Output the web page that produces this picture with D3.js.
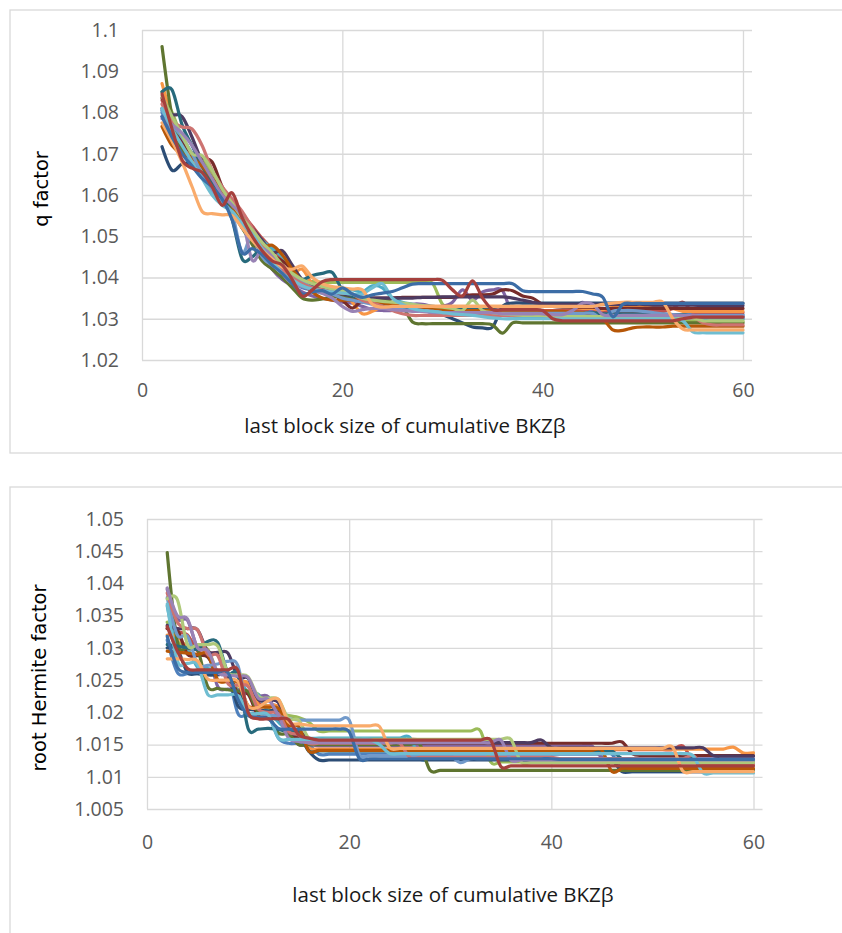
<!DOCTYPE html>
<html>
<head>
<meta charset="utf-8">
<script src="https://cdn.jsdelivr.net/npm/d3@7"></script>
<style>
  body { margin: 0; background: #fff; }
  svg { display: block; }
</style>
</head>
<body>
<script>
// block sizes 2..60 (x of every run)
const blockSizes = [2,3,4,5,6,7,8,9,10,
  11,12,13,14,15,16,17,18,19,20,
  21,22,23,24,25,26,27,28,29,30,
  31,32,33,34,35,36,37,38,39,40,
  41,42,43,44,45,46,47,48,49,50,
  51,52,53,54,55,56,57,58,59,60];

const xTicks = [0, 20, 40, 60];
const qTicks = [1.02, 1.03, 1.04, 1.05, 1.06, 1.07, 1.08, 1.09, 1.1];
const hermiteTicks = [1.005, 1.01, 1.015, 1.02, 1.025, 1.03, 1.035, 1.04, 1.045, 1.05];

const seriesColors = ['#4F81BD','#C0504D','#9BBB59','#8064A2','#4BACC6','#F79646',
  '#2C4D75','#772C2A','#5F7530','#4D3B62','#276A7C','#B65708',
  '#729ACA','#CD7371','#AFC97A','#9983B5','#6FBDD1','#F9AB6B',
  '#3C6DA6','#A5403D'];

// ---- q factor runs ----
const q01 = [1.0800,1.0745,1.0715,1.0690,1.0650,1.0625,1.0600,1.0560,1.0530,
  1.0510,1.0480,1.0450,1.0420,1.0390,1.0375,1.0370,1.0368,1.0362,1.0350,
  1.0345,1.0345,1.0340,1.0335,1.0335,1.0332,1.0330,1.0330,1.0328,1.0328,
  1.0325,1.0325,1.0322,1.0322,1.0322,1.0320,1.0320,1.0320,1.0318,1.0318,
  1.0318,1.0318,1.0315,1.0315,1.0315,1.0315,1.0312,1.0312,1.0312,1.0312,
  1.0312,1.0312,1.0310,1.0310,1.0310,1.0310,1.0310,1.0310,1.0310,1.0310];
const q02 = [1.0830,1.0770,1.0730,1.0700,1.0670,1.0640,1.0610,1.0585,1.0555,
  1.0525,1.0495,1.0470,1.0445,1.0415,1.0385,1.0372,1.0365,1.0358,1.0350,
  1.0345,1.0340,1.0338,1.0335,1.0332,1.0330,1.0330,1.0328,1.0325,1.0325,
  1.0322,1.0322,1.0322,1.0322,1.0322,1.0320,1.0320,1.0320,1.0320,1.0320,
  1.0320,1.0320,1.0320,1.0320,1.0320,1.0318,1.0318,1.0318,1.0318,1.0318,
  1.0318,1.0318,1.0325,1.0340,1.0315,1.0315,1.0315,1.0315,1.0315,1.0315];
const q03 = [1.0850,1.0800,1.0740,1.0700,1.0690,1.0650,1.0610,1.0580,1.0540,
  1.0500,1.0470,1.0440,1.0420,1.0400,1.0392,1.0390,1.0388,1.0388,1.0388,
  1.0388,1.0388,1.0388,1.0388,1.0388,1.0388,1.0388,1.0388,1.0386,1.0335,
  1.0320,1.0310,1.0310,1.0310,1.0310,1.0310,1.0310,1.0310,1.0310,1.0310,
  1.0310,1.0310,1.0310,1.0310,1.0310,1.0300,1.0295,1.0295,1.0295,1.0295,
  1.0295,1.0295,1.0295,1.0295,1.0295,1.0295,1.0295,1.0293,1.0293,1.0293];
const q04 = [1.0790,1.0760,1.0735,1.0700,1.0660,1.0620,1.0590,1.0560,1.0520,
  1.0490,1.0460,1.0420,1.0395,1.0380,1.0365,1.0355,1.0350,1.0345,1.0340,
  1.0338,1.0330,1.0322,1.0320,1.0320,1.0325,1.0335,1.0335,1.0330,1.0330,
  1.0340,1.0370,1.0345,1.0365,1.0370,1.0368,1.0310,1.0308,1.0306,1.0305,
  1.0305,1.0305,1.0320,1.0340,1.0315,1.0305,1.0305,1.0305,1.0305,1.0305,
  1.0302,1.0302,1.0302,1.0302,1.0302,1.0300,1.0300,1.0300,1.0300,1.0300];
const q05 = [1.0805,1.0770,1.0720,1.0680,1.0650,1.0610,1.0590,1.0560,1.0530,
  1.0510,1.0490,1.0470,1.0450,1.0420,1.0390,1.0370,1.0362,1.0360,1.0365,
  1.0370,1.0365,1.0380,1.0375,1.0350,1.0340,1.0335,1.0330,1.0328,1.0325,
  1.0320,1.0318,1.0315,1.0312,1.0310,1.0308,1.0306,1.0305,1.0305,1.0305,
  1.0305,1.0305,1.0305,1.0305,1.0305,1.0305,1.0305,1.0305,1.0305,1.0305,
  1.0303,1.0303,1.0303,1.0303,1.0303,1.0300,1.0300,1.0300,1.0300,1.0300];
const q06 = [1.0870,1.0790,1.0740,1.0690,1.0660,1.0640,1.0610,1.0570,1.0530,
  1.0495,1.0470,1.0455,1.0430,1.0410,1.0420,1.0385,1.0380,1.0375,1.0370,
  1.0340,1.0312,1.0318,1.0330,1.0330,1.0330,1.0330,1.0330,1.0330,1.0330,
  1.0330,1.0330,1.0330,1.0330,1.0330,1.0330,1.0330,1.0330,1.0330,1.0330,
  1.0330,1.0330,1.0328,1.0325,1.0325,1.0322,1.0330,1.0330,1.0330,1.0330,
  1.0330,1.0330,1.0325,1.0318,1.0318,1.0318,1.0318,1.0318,1.0318,1.0318];
const q07 = [1.0717,1.0660,1.0675,1.0675,1.0650,1.0610,1.0590,1.0560,1.0530,
  1.0500,1.0470,1.0440,1.0415,1.0395,1.0380,1.0370,1.0365,1.0360,1.0355,
  1.0350,1.0345,1.0340,1.0338,1.0335,1.0330,1.0325,1.0320,1.0315,1.0310,
  1.0300,1.0290,1.0280,1.0278,1.0280,1.0330,1.0338,1.0338,1.0338,1.0338,
  1.0338,1.0338,1.0338,1.0338,1.0338,1.0338,1.0338,1.0338,1.0338,1.0338,
  1.0338,1.0338,1.0338,1.0338,1.0338,1.0338,1.0338,1.0338,1.0338,1.0338];
const q08 = [1.0835,1.0790,1.0730,1.0700,1.0690,1.0680,1.0620,1.0575,1.0550,
  1.0510,1.0475,1.0455,1.0440,1.0420,1.0390,1.0375,1.0368,1.0360,1.0345,
  1.0326,1.0345,1.0350,1.0350,1.0350,1.0352,1.0352,1.0352,1.0352,1.0352,
  1.0352,1.0355,1.0358,1.0358,1.0360,1.0370,1.0368,1.0355,1.0350,1.0335,
  1.0330,1.0328,1.0328,1.0328,1.0328,1.0325,1.0325,1.0325,1.0325,1.0325,
  1.0325,1.0325,1.0325,1.0325,1.0325,1.0325,1.0325,1.0325,1.0325,1.0325];
const q09 = [1.0960,1.0790,1.0710,1.0690,1.0670,1.0630,1.0600,1.0560,1.0520,
  1.0480,1.0440,1.0420,1.0400,1.0375,1.0350,1.0345,1.0348,1.0352,1.0355,
  1.0352,1.0350,1.0348,1.0345,1.0340,1.0330,1.0292,1.0288,1.0288,1.0288,
  1.0288,1.0288,1.0288,1.0288,1.0285,1.0265,1.0290,1.0290,1.0290,1.0290,
  1.0290,1.0290,1.0290,1.0290,1.0290,1.0290,1.0290,1.0290,1.0290,1.0290,
  1.0290,1.0290,1.0290,1.0290,1.0290,1.0290,1.0290,1.0290,1.0290,1.0290];
const q10 = [1.0810,1.0795,1.0790,1.0740,1.0680,1.0640,1.0610,1.0580,1.0550,
  1.0520,1.0490,1.0460,1.0465,1.0430,1.0395,1.0380,1.0372,1.0365,1.0360,
  1.0355,1.0352,1.0350,1.0350,1.0350,1.0350,1.0350,1.0352,1.0352,1.0353,
  1.0353,1.0353,1.0353,1.0353,1.0353,1.0353,1.0350,1.0345,1.0340,1.0336,
  1.0335,1.0335,1.0335,1.0335,1.0335,1.0335,1.0335,1.0335,1.0335,1.0335,
  1.0333,1.0333,1.0333,1.0333,1.0333,1.0332,1.0332,1.0332,1.0332,1.0332];
const q11 = [1.0850,1.0855,1.0770,1.0720,1.0670,1.0630,1.0600,1.0540,1.0445,
  1.0450,1.0470,1.0445,1.0420,1.0400,1.0395,1.0405,1.0410,1.0412,1.0370,
  1.0355,1.0345,1.0340,1.0340,1.0335,1.0335,1.0332,1.0330,1.0328,1.0325,
  1.0322,1.0322,1.0322,1.0322,1.0322,1.0318,1.0318,1.0318,1.0318,1.0318,
  1.0315,1.0315,1.0315,1.0315,1.0315,1.0312,1.0312,1.0312,1.0312,1.0312,
  1.0310,1.0310,1.0310,1.0310,1.0305,1.0305,1.0305,1.0305,1.0305,1.0305];
const q12 = [1.0766,1.0720,1.0700,1.0690,1.0670,1.0640,1.0610,1.0575,1.0540,
  1.0505,1.0475,1.0478,1.0455,1.0420,1.0390,1.0365,1.0350,1.0345,1.0345,
  1.0345,1.0345,1.0340,1.0338,1.0335,1.0332,1.0330,1.0328,1.0325,1.0322,
  1.0320,1.0320,1.0320,1.0320,1.0320,1.0318,1.0318,1.0318,1.0318,1.0318,
  1.0318,1.0318,1.0316,1.0315,1.0310,1.0300,1.0273,1.0272,1.0278,1.0280,
  1.0280,1.0280,1.0282,1.0282,1.0282,1.0282,1.0282,1.0282,1.0282,1.0282];
const q13 = [1.0805,1.0770,1.0740,1.0700,1.0650,1.0610,1.0580,1.0555,1.0460,
  1.0505,1.0450,1.0430,1.0420,1.0405,1.0390,1.0375,1.0368,1.0360,1.0350,
  1.0345,1.0340,1.0335,1.0330,1.0325,1.0322,1.0320,1.0318,1.0318,1.0315,
  1.0315,1.0315,1.0315,1.0315,1.0315,1.0313,1.0313,1.0313,1.0313,1.0313,
  1.0313,1.0313,1.0313,1.0313,1.0313,1.0300,1.0318,1.0320,1.0320,1.0318,
  1.0315,1.0312,1.0310,1.0308,1.0308,1.0308,1.0308,1.0308,1.0308,1.0308];
const q14 = [1.0820,1.0780,1.0765,1.0760,1.0720,1.0660,1.0620,1.0590,1.0560,
  1.0520,1.0480,1.0450,1.0420,1.0400,1.0385,1.0375,1.0370,1.0365,1.0362,
  1.0360,1.0345,1.0338,1.0330,1.0320,1.0312,1.0308,1.0308,1.0308,1.0308,
  1.0308,1.0308,1.0308,1.0308,1.0308,1.0308,1.0308,1.0308,1.0308,1.0308,
  1.0305,1.0305,1.0305,1.0305,1.0305,1.0305,1.0305,1.0305,1.0305,1.0305,
  1.0305,1.0305,1.0305,1.0305,1.0305,1.0290,1.0285,1.0285,1.0285,1.0285];
const q15 = [1.0840,1.0790,1.0745,1.0700,1.0695,1.0660,1.0615,1.0580,1.0545,
  1.0515,1.0485,1.0460,1.0430,1.0410,1.0395,1.0385,1.0378,1.0372,1.0368,
  1.0360,1.0350,1.0345,1.0342,1.0340,1.0338,1.0335,1.0332,1.0330,1.0328,
  1.0325,1.0320,1.0345,1.0320,1.0315,1.0312,1.0310,1.0308,1.0308,1.0308,
  1.0305,1.0305,1.0305,1.0305,1.0305,1.0305,1.0305,1.0305,1.0305,1.0305,
  1.0302,1.0302,1.0302,1.0302,1.0302,1.0295,1.0295,1.0295,1.0295,1.0295];
const q16 = [1.0785,1.0770,1.0750,1.0720,1.0680,1.0640,1.0600,1.0575,1.0545,
  1.0442,1.0470,1.0450,1.0410,1.0385,1.0378,1.0370,1.0362,1.0350,1.0330,
  1.0318,1.0322,1.0325,1.0325,1.0322,1.0320,1.0318,1.0318,1.0315,1.0315,
  1.0315,1.0315,1.0315,1.0315,1.0315,1.0312,1.0312,1.0312,1.0312,1.0312,
  1.0310,1.0310,1.0320,1.0338,1.0335,1.0310,1.0308,1.0308,1.0308,1.0308,
  1.0308,1.0308,1.0308,1.0308,1.0308,1.0305,1.0305,1.0305,1.0305,1.0305];
const q17 = [1.0810,1.0760,1.0720,1.0680,1.0640,1.0600,1.0575,1.0560,1.0530,
  1.0505,1.0470,1.0440,1.0410,1.0395,1.0380,1.0372,1.0368,1.0365,1.0362,
  1.0360,1.0360,1.0375,1.0385,1.0350,1.0335,1.0325,1.0320,1.0318,1.0315,
  1.0312,1.0310,1.0308,1.0305,1.0302,1.0300,1.0300,1.0300,1.0300,1.0300,
  1.0300,1.0300,1.0300,1.0300,1.0300,1.0300,1.0300,1.0300,1.0300,1.0300,
  1.0300,1.0300,1.0300,1.0295,1.0268,1.0266,1.0266,1.0266,1.0266,1.0266];
const q18 = [1.0775,1.0730,1.0680,1.0620,1.0560,1.0555,1.0552,1.0550,1.0520,
  1.0490,1.0465,1.0445,1.0425,1.0420,1.0428,1.0400,1.0385,1.0378,1.0375,
  1.0372,1.0370,1.0335,1.0328,1.0330,1.0330,1.0330,1.0330,1.0330,1.0330,
  1.0330,1.0330,1.0330,1.0330,1.0330,1.0330,1.0330,1.0330,1.0330,1.0330,
  1.0330,1.0330,1.0330,1.0330,1.0330,1.0335,1.0338,1.0340,1.0340,1.0340,
  1.0340,1.0340,1.0300,1.0275,1.0273,1.0273,1.0273,1.0273,1.0273,1.0273];
const q19 = [1.0790,1.0740,1.0700,1.0670,1.0640,1.0620,1.0590,1.0540,1.0460,
  1.0470,1.0455,1.0430,1.0410,1.0385,1.0360,1.0365,1.0368,1.0360,1.0375,
  1.0360,1.0352,1.0358,1.0362,1.0366,1.0375,1.0384,1.0385,1.0385,1.0385,
  1.0385,1.0385,1.0385,1.0385,1.0385,1.0385,1.0385,1.0368,1.0366,1.0366,
  1.0366,1.0366,1.0366,1.0366,1.0360,1.0352,1.0305,1.0335,1.0337,1.0337,
  1.0337,1.0337,1.0337,1.0337,1.0337,1.0337,1.0337,1.0337,1.0337,1.0337];
const q20 = [1.0845,1.0760,1.0685,1.0665,1.0655,1.0620,1.0575,1.0605,1.0545,
  1.0500,1.0465,1.0440,1.0430,1.0395,1.0355,1.0370,1.0390,1.0395,1.0395,
  1.0395,1.0395,1.0395,1.0395,1.0395,1.0395,1.0395,1.0395,1.0395,1.0393,
  1.0370,1.0355,1.0392,1.0350,1.0322,1.0322,1.0322,1.0322,1.0322,1.0320,
  1.0300,1.0295,1.0295,1.0295,1.0295,1.0295,1.0295,1.0295,1.0295,1.0295,
  1.0295,1.0295,1.0295,1.0300,1.0304,1.0304,1.0304,1.0304,1.0304,1.0304];

// ---- root Hermite factor runs ----
const h01 = [1.0312,1.0262,1.0260,1.0260,1.0260,1.0260,1.0258,1.0198,1.0198,
  1.0198,1.0196,1.0160,1.0152,1.0152,1.0150,1.0135,1.0135,1.0135,1.0135,
  1.0135,1.0135,1.0135,1.0135,1.0135,1.0135,1.0135,1.0135,1.0135,1.0135,
  1.0135,1.0135,1.0135,1.0135,1.0135,1.0135,1.0135,1.0135,1.0135,1.0135,
  1.0135,1.0135,1.0135,1.0135,1.0135,1.0135,1.0110,1.0108,1.0108,1.0108,
  1.0108,1.0108,1.0108,1.0108,1.0108,1.0108,1.0108,1.0108,1.0108,1.0108];
const h02 = [1.0330,1.0325,1.0320,1.0295,1.0290,1.0290,1.0250,1.0248,1.0245,
  1.0215,1.0210,1.0208,1.0165,1.0162,1.0158,1.0158,1.0158,1.0158,1.0158,
  1.0158,1.0158,1.0158,1.0158,1.0158,1.0158,1.0156,1.0142,1.0142,1.0142,
  1.0142,1.0142,1.0142,1.0142,1.0142,1.0142,1.0142,1.0142,1.0142,1.0142,
  1.0142,1.0142,1.0142,1.0142,1.0142,1.0142,1.0142,1.0142,1.0142,1.0142,
  1.0142,1.0142,1.0148,1.0125,1.0122,1.0122,1.0122,1.0122,1.0122,1.0122];
const h03 = [1.0340,1.0310,1.0305,1.0300,1.0298,1.0262,1.0258,1.0235,1.0230,
  1.0228,1.0205,1.0200,1.0195,1.0192,1.0185,1.0171,1.0171,1.0171,1.0171,
  1.0171,1.0171,1.0171,1.0171,1.0171,1.0171,1.0171,1.0171,1.0171,1.0171,
  1.0171,1.0171,1.0171,1.0123,1.0123,1.0123,1.0123,1.0123,1.0123,1.0123,
  1.0123,1.0123,1.0123,1.0123,1.0123,1.0123,1.0123,1.0123,1.0123,1.0123,
  1.0123,1.0123,1.0123,1.0123,1.0123,1.0123,1.0123,1.0123,1.0123,1.0123];
const h04 = [1.0391,1.0345,1.0343,1.0300,1.0295,1.0240,1.0236,1.0235,1.0232,
  1.0225,1.0224,1.0190,1.0170,1.0150,1.0150,1.0148,1.0148,1.0148,1.0148,
  1.0148,1.0148,1.0148,1.0148,1.0148,1.0148,1.0148,1.0148,1.0148,1.0148,
  1.0148,1.0148,1.0148,1.0148,1.0148,1.0148,1.0148,1.0148,1.0148,1.0148,
  1.0148,1.0148,1.0148,1.0148,1.0130,1.0128,1.0128,1.0128,1.0128,1.0128,
  1.0128,1.0128,1.0128,1.0128,1.0128,1.0128,1.0128,1.0128,1.0128,1.0128];
const h05 = [1.0365,1.0300,1.0298,1.0270,1.0268,1.0265,1.0260,1.0255,1.0230,
  1.0228,1.0200,1.0185,1.0170,1.0168,1.0160,1.0160,1.0160,1.0160,1.0160,
  1.0160,1.0160,1.0160,1.0160,1.0160,1.0161,1.0128,1.0128,1.0128,1.0128,
  1.0128,1.0128,1.0128,1.0128,1.0128,1.0128,1.0128,1.0128,1.0128,1.0128,
  1.0128,1.0128,1.0128,1.0128,1.0128,1.0128,1.0128,1.0128,1.0128,1.0128,
  1.0126,1.0126,1.0126,1.0126,1.0126,1.0126,1.0126,1.0126,1.0126,1.0126];
const h06 = [1.0320,1.0318,1.0300,1.0298,1.0296,1.0250,1.0250,1.0248,1.0245,
  1.0212,1.0210,1.0208,1.0170,1.0168,1.0145,1.0143,1.0143,1.0143,1.0143,
  1.0143,1.0143,1.0143,1.0143,1.0143,1.0143,1.0143,1.0143,1.0143,1.0143,
  1.0143,1.0143,1.0143,1.0143,1.0143,1.0143,1.0143,1.0143,1.0143,1.0143,
  1.0143,1.0143,1.0143,1.0143,1.0143,1.0143,1.0143,1.0143,1.0143,1.0143,
  1.0143,1.0143,1.0143,1.0143,1.0143,1.0143,1.0143,1.0146,1.0137,1.0137];
const h07 = [1.0300,1.0298,1.0262,1.0260,1.0258,1.0258,1.0258,1.0210,1.0205,
  1.0203,1.0202,1.0200,1.0165,1.0165,1.0140,1.0126,1.0126,1.0126,1.0126,
  1.0126,1.0126,1.0126,1.0126,1.0126,1.0126,1.0126,1.0126,1.0126,1.0126,
  1.0126,1.0126,1.0126,1.0126,1.0126,1.0126,1.0126,1.0126,1.0126,1.0126,
  1.0126,1.0126,1.0126,1.0126,1.0126,1.0126,1.0108,1.0108,1.0108,1.0108,
  1.0108,1.0108,1.0108,1.0108,1.0108,1.0108,1.0108,1.0108,1.0108,1.0108];
const h08 = [1.0330,1.0328,1.0290,1.0288,1.0286,1.0262,1.0260,1.0230,1.0228,
  1.0195,1.0193,1.0192,1.0165,1.0160,1.0155,1.0152,1.0152,1.0152,1.0152,
  1.0152,1.0152,1.0152,1.0152,1.0152,1.0152,1.0152,1.0152,1.0152,1.0152,
  1.0152,1.0152,1.0152,1.0152,1.0152,1.0152,1.0152,1.0152,1.0152,1.0152,
  1.0152,1.0152,1.0152,1.0152,1.0152,1.0152,1.0154,1.0136,1.0133,1.0133,
  1.0133,1.0133,1.0133,1.0133,1.0133,1.0133,1.0133,1.0133,1.0133,1.0133];
const h09 = [1.0448,1.0310,1.0300,1.0298,1.0240,1.0237,1.0235,1.0233,1.0232,
  1.0200,1.0195,1.0168,1.0166,1.0150,1.0150,1.0150,1.0150,1.0150,1.0150,
  1.0150,1.0150,1.0150,1.0150,1.0150,1.0150,1.0150,1.0110,1.0110,1.0110,
  1.0110,1.0110,1.0110,1.0110,1.0110,1.0110,1.0110,1.0110,1.0110,1.0110,
  1.0110,1.0110,1.0110,1.0110,1.0110,1.0110,1.0110,1.0110,1.0110,1.0110,
  1.0110,1.0110,1.0110,1.0110,1.0110,1.0110,1.0110,1.0110,1.0110,1.0110];
const h10 = [1.0335,1.0330,1.0330,1.0328,1.0295,1.0293,1.0292,1.0255,1.0253,
  1.0220,1.0218,1.0215,1.0175,1.0172,1.0158,1.0153,1.0153,1.0153,1.0153,
  1.0153,1.0153,1.0153,1.0153,1.0153,1.0153,1.0153,1.0153,1.0153,1.0153,
  1.0153,1.0153,1.0153,1.0153,1.0153,1.0153,1.0153,1.0153,1.0157,1.0145,
  1.0145,1.0145,1.0145,1.0145,1.0145,1.0145,1.0145,1.0145,1.0145,1.0145,
  1.0145,1.0145,1.0145,1.0145,1.0145,1.0133,1.0132,1.0132,1.0132,1.0132];
const h11 = [1.0305,1.0303,1.0300,1.0298,1.0310,1.0308,1.0262,1.0258,1.0175,
  1.0174,1.0175,1.0173,1.0170,1.0168,1.0140,1.0140,1.0140,1.0140,1.0140,
  1.0140,1.0140,1.0140,1.0140,1.0140,1.0140,1.0140,1.0140,1.0140,1.0140,
  1.0140,1.0140,1.0140,1.0140,1.0140,1.0140,1.0140,1.0140,1.0140,1.0140,
  1.0140,1.0140,1.0140,1.0140,1.0140,1.0140,1.0128,1.0128,1.0128,1.0128,
  1.0128,1.0128,1.0128,1.0128,1.0112,1.0112,1.0112,1.0112,1.0112,1.0112];
const h12 = [1.0295,1.0293,1.0292,1.0290,1.0290,1.0250,1.0248,1.0246,1.0210,
  1.0208,1.0208,1.0206,1.0180,1.0178,1.0140,1.0141,1.0141,1.0141,1.0141,
  1.0141,1.0141,1.0141,1.0141,1.0141,1.0141,1.0141,1.0141,1.0141,1.0141,
  1.0141,1.0141,1.0141,1.0141,1.0141,1.0141,1.0141,1.0141,1.0141,1.0141,
  1.0141,1.0141,1.0141,1.0141,1.0141,1.0108,1.0113,1.0113,1.0113,1.0113,
  1.0113,1.0113,1.0113,1.0113,1.0113,1.0113,1.0113,1.0113,1.0113,1.0113];
const h13 = [1.0378,1.0320,1.0318,1.0275,1.0273,1.0275,1.0279,1.0272,1.0200,
  1.0198,1.0196,1.0194,1.0190,1.0188,1.0188,1.0188,1.0188,1.0188,1.0188,
  1.0134,1.0133,1.0133,1.0133,1.0133,1.0133,1.0133,1.0133,1.0133,1.0133,
  1.0122,1.0128,1.0128,1.0128,1.0128,1.0128,1.0128,1.0128,1.0128,1.0128,
  1.0128,1.0128,1.0128,1.0128,1.0128,1.0128,1.0128,1.0128,1.0128,1.0128,
  1.0126,1.0126,1.0126,1.0126,1.0126,1.0126,1.0126,1.0126,1.0126,1.0126];
const h14 = [1.0385,1.0340,1.0330,1.0328,1.0290,1.0288,1.0245,1.0242,1.0240,
  1.0205,1.0200,1.0198,1.0170,1.0165,1.0152,1.0152,1.0152,1.0152,1.0152,
  1.0152,1.0152,1.0152,1.0152,1.0152,1.0130,1.0130,1.0130,1.0130,1.0130,
  1.0130,1.0130,1.0130,1.0130,1.0130,1.0130,1.0130,1.0130,1.0130,1.0130,
  1.0128,1.0128,1.0128,1.0128,1.0128,1.0128,1.0128,1.0128,1.0128,1.0128,
  1.0128,1.0128,1.0128,1.0133,1.0120,1.0120,1.0120,1.0120,1.0120,1.0120];
const h15 = [1.0376,1.0375,1.0305,1.0305,1.0305,1.0303,1.0262,1.0258,1.0255,
  1.0225,1.0222,1.0220,1.0190,1.0188,1.0160,1.0158,1.0158,1.0158,1.0158,
  1.0158,1.0158,1.0158,1.0158,1.0158,1.0158,1.0158,1.0158,1.0158,1.0158,
  1.0158,1.0158,1.0158,1.0158,1.0158,1.0158,1.0123,1.0122,1.0122,1.0122,
  1.0122,1.0122,1.0122,1.0122,1.0122,1.0122,1.0122,1.0122,1.0122,1.0122,
  1.0122,1.0122,1.0122,1.0122,1.0122,1.0122,1.0122,1.0122,1.0122,1.0122];
const h16 = [1.0393,1.0350,1.0345,1.0300,1.0296,1.0262,1.0258,1.0256,1.0254,
  1.0222,1.0220,1.0195,1.0160,1.0155,1.0153,1.0153,1.0153,1.0153,1.0153,
  1.0153,1.0153,1.0153,1.0153,1.0153,1.0153,1.0153,1.0153,1.0153,1.0153,
  1.0153,1.0153,1.0153,1.0153,1.0157,1.0126,1.0126,1.0126,1.0126,1.0126,
  1.0126,1.0126,1.0126,1.0126,1.0126,1.0126,1.0126,1.0126,1.0126,1.0126,
  1.0126,1.0126,1.0126,1.0126,1.0126,1.0126,1.0126,1.0126,1.0126,1.0126];
const h17 = [1.0368,1.0280,1.0276,1.0274,1.0228,1.0227,1.0227,1.0226,1.0200,
  1.0198,1.0196,1.0160,1.0158,1.0158,1.0158,1.0158,1.0158,1.0158,1.0158,
  1.0158,1.0158,1.0150,1.0136,1.0136,1.0136,1.0136,1.0136,1.0136,1.0136,
  1.0136,1.0136,1.0136,1.0136,1.0136,1.0136,1.0136,1.0136,1.0136,1.0136,
  1.0136,1.0136,1.0136,1.0136,1.0136,1.0136,1.0136,1.0136,1.0136,1.0136,
  1.0136,1.0136,1.0136,1.0133,1.0106,1.0106,1.0106,1.0106,1.0106,1.0106];
const h18 = [1.0283,1.0283,1.0282,1.0280,1.0252,1.0250,1.0250,1.0248,1.0210,
  1.0208,1.0218,1.0220,1.0185,1.0182,1.0180,1.0179,1.0179,1.0179,1.0179,
  1.0179,1.0179,1.0178,1.0145,1.0144,1.0144,1.0144,1.0144,1.0144,1.0144,
  1.0144,1.0144,1.0144,1.0144,1.0144,1.0144,1.0144,1.0144,1.0144,1.0144,
  1.0144,1.0144,1.0144,1.0144,1.0144,1.0144,1.0144,1.0144,1.0144,1.0144,
  1.0144,1.0146,1.0109,1.0108,1.0108,1.0108,1.0108,1.0108,1.0108,1.0108];
const h19 = [1.0318,1.0270,1.0262,1.0262,1.0262,1.0262,1.0262,1.0220,1.0195,
  1.0192,1.0190,1.0175,1.0174,1.0174,1.0174,1.0174,1.0174,1.0174,1.0170,
  1.0128,1.0128,1.0128,1.0128,1.0128,1.0128,1.0128,1.0128,1.0128,1.0128,
  1.0128,1.0128,1.0128,1.0128,1.0128,1.0128,1.0128,1.0128,1.0128,1.0128,
  1.0127,1.0127,1.0127,1.0127,1.0127,1.0127,1.0127,1.0127,1.0127,1.0127,
  1.0127,1.0127,1.0127,1.0127,1.0127,1.0127,1.0127,1.0127,1.0127,1.0127];
const h20 = [1.0333,1.0295,1.0268,1.0266,1.0266,1.0266,1.0266,1.0265,1.0200,
  1.0190,1.0190,1.0190,1.0189,1.0165,1.0160,1.0157,1.0157,1.0157,1.0157,
  1.0157,1.0157,1.0157,1.0157,1.0157,1.0157,1.0157,1.0157,1.0157,1.0157,
  1.0157,1.0157,1.0157,1.0157,1.0116,1.0117,1.0117,1.0117,1.0117,1.0117,
  1.0117,1.0117,1.0117,1.0117,1.0117,1.0117,1.0117,1.0117,1.0117,1.0117,
  1.0117,1.0117,1.0117,1.0117,1.0117,1.0117,1.0117,1.0117,1.0117,1.0117];

const qSeries = [q01,q02,q03,q04,q05,q06,q07,q08,q09,q10,q11,q12,q13,q14,q15,q16,q17,q18,q19,q20];
const hermiteSeries = [h01,h02,h03,h04,h05,h06,h07,h08,h09,h10,h11,h12,h13,h14,h15,h16,h17,h18,h19,h20];

const svg = d3.select('body').append('svg')
  .attr('width', 842)
  .attr('height', 933);

const tickFont = "'Open Sans', sans-serif";
const fmt = function(v) { return String(+v.toFixed(3)); };

function drawPanel(p) {
  var g = svg.append('g');

  // chart border
  g.append('rect')
    .attr('x', p.box[0]).attr('y', p.box[1])
    .attr('width', p.box[2]).attr('height', p.box[3])
    .attr('fill', '#fff')
    .attr('stroke', '#d9d9d9')
    .attr('stroke-width', 1.3);

  var x = d3.scaleLinear().domain([0, 60]).range([p.left, p.right]);
  var y = d3.scaleLinear().domain(p.yDomain).range([p.bottom, p.top]);

  var yAxis = g.append('g')
    .attr('transform', 'translate(' + p.left + ',0)')
    .call(d3.axisLeft(y).tickValues(p.yTicks).tickFormat(fmt)
      .tickSize(-(p.gridRight - p.left)).tickPadding(23));

  var xAxis = g.append('g')
    .attr('transform', 'translate(0,' + p.bottom + ')')
    .call(d3.axisBottom(x).tickValues(xTicks).tickFormat(d3.format('d'))
      .tickSize(-(p.bottom - p.top)).tickPadding(p.xPad));

  [yAxis, xAxis].forEach(function(a) {
    a.select('.domain').remove();
    a.selectAll('line').attr('stroke', '#d9d9d9').attr('stroke-width', 1.3);
    a.selectAll('text')
      .attr('fill', '#595959')
      .style('font-family', tickFont)
      .style('font-size', '19.5px');
  });

  var line = d3.line()
    .x(function(d) { return x(d[0]); })
    .y(function(d) { return y(d[1]); })
    .curve(d3.curveCatmullRom.alpha(0));

  p.series.forEach(function(s, i) {
    g.append('path')
      .datum(blockSizes.map(function(b, j) { return [b, s[j]]; }))
      .attr('d', line)
      .attr('fill', 'none')
      .attr('stroke', seriesColors[i])
      .attr('stroke-width', 3.2)
      .attr('stroke-linejoin', 'round')
      .attr('stroke-linecap', 'round');
  });

  g.append('text')
    .attr('x', p.xTitle[0])
    .attr('y', p.xTitle[1])
    .attr('text-anchor', 'middle')
    .attr('fill', '#1a1a1a')
    .style('font-family', tickFont)
    .style('font-size', '20.5px')
    .text('last block size of cumulative BKZβ');

  g.append('text')
    .attr('transform', 'translate(' + p.yTitle[0] + ',' + p.yTitle[1] + ') rotate(-90)')
    .attr('text-anchor', 'middle')
    .attr('fill', '#000')
    .style('font-family', "'DejaVu Sans', sans-serif")
    .style('font-size', '19.5px')
    .text(p.yLabel);
}

drawPanel({
  box: [10, 10, 845, 443],
  left: 142, right: 743, gridRight: 752, top: 30, bottom: 360,
  yDomain: [1.02, 1.1], yTicks: qTicks, xPad: 23,
  series: qSeries,
  xTitle: [405, 433], yTitle: [47.5, 189], yLabel: 'q factor'
});

drawPanel({
  box: [10, 487, 845, 460],
  left: 147, right: 753.5, gridRight: 762.5, top: 519, bottom: 809,
  yDomain: [1.005, 1.05], yTicks: hermiteTicks, xPad: 26,
  series: hermiteSeries,
  xTitle: [453, 902], yTitle: [46, 678], yLabel: 'root Hermite factor'
});
</script>
</body>
</html>
